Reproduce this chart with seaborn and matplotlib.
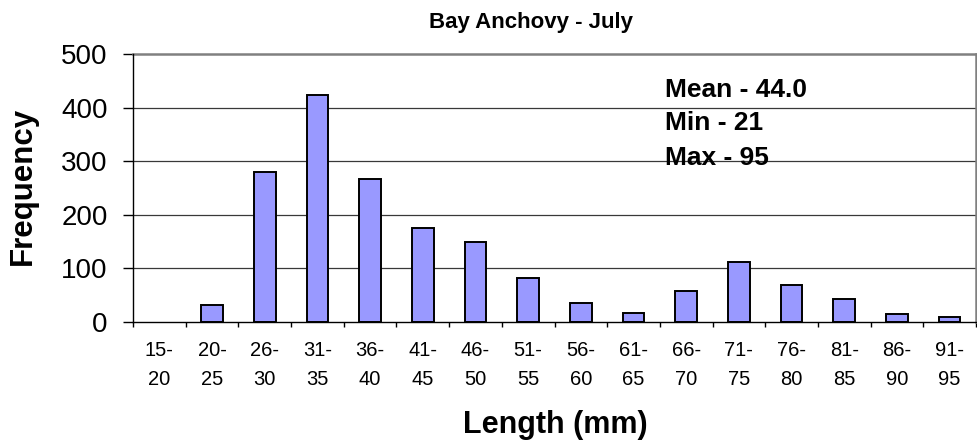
import matplotlib
matplotlib.use("Agg")
import matplotlib.pyplot as plt
import seaborn as sns
import pandas as pd
import numpy as np

# Length classes (mm) and catch counts
bins = ["15-\n20", "20-\n25", "26-\n30", "31-\n35", "36-\n40", "41-\n45", "46-\n50", "51-\n55",
        "56-\n60", "61-\n65", "66-\n70", "71-\n75", "76-\n80", "81-\n85", "86-\n90", "91-\n95"]
counts = [0, 32, 279, 424, 267, 176, 149, 82, 35, 17, 57, 112, 69, 42, 14, 9]
yticks = [0, 100, 200, 300, 400, 500]
stats = ["Mean - 44.0", "Min - 21", "Max - 95"]

sns.set_theme(style="white")
plt.rcParams["font.family"] = ["Liberation Sans", "DejaVu Sans"]
for key in ["text.color", "axes.labelcolor", "xtick.color", "ytick.color"]:
    plt.rcParams[key] = "black"

df = pd.DataFrame({"bin": bins, "count": counts})

W, H = 977, 446
fig = plt.figure(figsize=(W / 100, H / 100), dpi=100)
ax = fig.add_axes([133 / W, 1 - 321.7 / H, (976 - 133) / W, (321.7 - 54.3) / H])

sns.barplot(data=df, x="bin", y="count", color="#9999FF", saturation=1,
            edgecolor="black", linewidth=1.4, width=0.41, ax=ax, zorder=3)
# empty classes get no outline
for patch in ax.patches:
    if patch.get_height() == 0:
        patch.set_linewidth(0)

ax.set_ylim(0, 500)
ax.set_xlim(-0.5, len(bins) - 0.5)
ax.set_yticks(yticks)
ax.set_yticklabels([str(v) for v in yticks], fontsize=20)

# horizontal gridlines
for v in yticks[1:-1]:
    ax.axhline(v, color="#383838", linewidth=0.9, zorder=1)

# category labels at centres, tick marks at class boundaries
ax.set_xticks(np.arange(len(bins)))
ax.set_xticklabels(bins, fontsize=14.5, linespacing=1.68)
ax.set_xticks(np.arange(len(bins) + 1) - 0.5, minor=True)
ax.tick_params(axis="x", which="major", length=0, pad=14)
ax.tick_params(axis="x", which="minor", length=3.8, width=1, color="black",
               direction="out", bottom=True)
ax.tick_params(axis="y", which="major", length=7.2, width=1, color="black",
               direction="out", left=True, pad=11)

for side in ["left", "bottom"]:
    ax.spines[side].set_color("black")
    ax.spines[side].set_linewidth(1.0)
    ax.spines[side].set_zorder(4)
for side in ["top", "right"]:
    ax.spines[side].set_color("#808080")
    ax.spines[side].set_linewidth(1.8)

ax.set_xlabel("")
ax.set_ylabel("")
fig.text(555 / W, 1 - 433 / H, "Length (mm)", ha="center", va="baseline",
         fontsize=22, fontweight="bold")
fig.text(23 / W, 1 - 186 / H, "Frequency", ha="center", va="center",
         rotation=90, fontsize=22.5, fontweight="bold")

fig.text(531 / W, 1 - 28 / H, "Bay Anchovy - July", ha="center", va="baseline",
         fontsize=16, fontweight="bold")

for txt, yy in zip(stats, [0.840, 0.717, 0.586]):
    ax.text((665 - 133) / (976 - 133), yy, txt, transform=ax.transAxes,
            ha="left", va="baseline", fontsize=19, fontweight="bold", zorder=5)

fig.savefig("out.png", dpi=100)
